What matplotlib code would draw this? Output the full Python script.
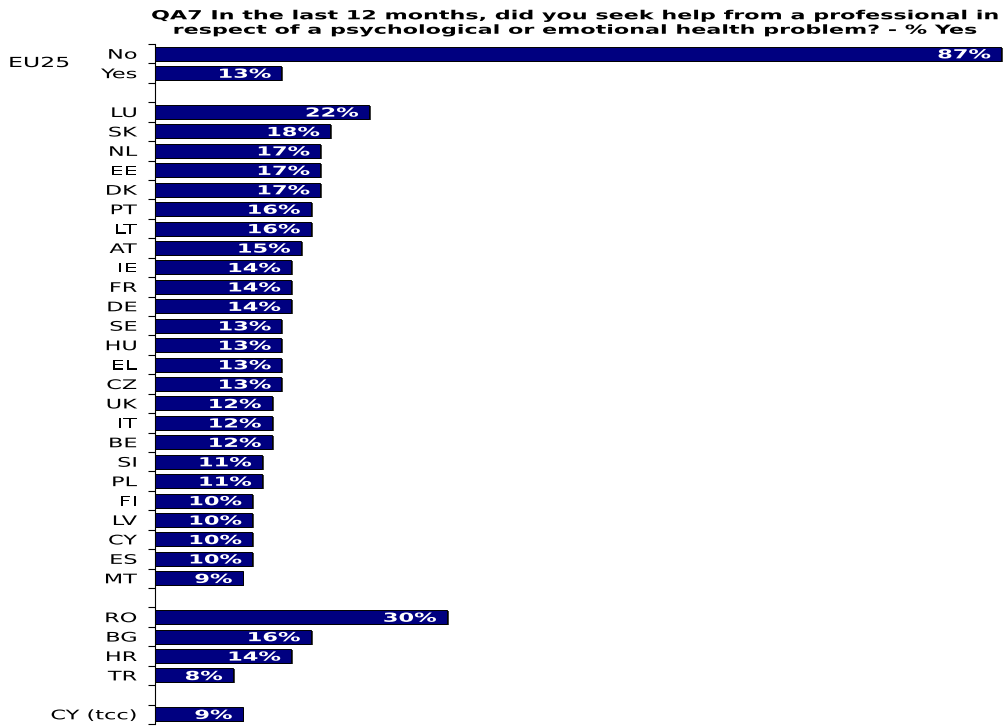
import matplotlib
matplotlib.use("Agg")
import matplotlib.pyplot as plt
import numpy as np
from matplotlib.patheffects import AbstractPathEffect
from matplotlib.transforms import Affine2D

eu_labels = ["No", "Yes"]
eu_values = [87, 13]
countries = ["LU", "SK", "NL", "EE", "DK", "PT", "LT", "AT", "IE", "FR", "DE", "SE", "HU",
             "EL", "CZ", "UK", "IT", "BE", "SI", "PL", "FI", "LV", "CY", "ES", "MT"]
country_values = [22, 18, 17, 17, 17, 16, 16, 15, 14, 14, 14, 13, 13, 13, 13, 12, 12, 12,
                  11, 11, 10, 10, 10, 10, 9]
candidates = ["RO", "BG", "HR", "TR"]
candidate_values = [30, 16, 14, 8]
tcc_labels = ["CY (tcc)"]
tcc_values = [9]
group_label = "EU25"
title = ("QA7 In the last 12 months, did you seek help from a professional in\n"
         "respect of a psychological or emotional health problem? - % Yes")


class HStretch(AbstractPathEffect):
    """Stretch glyphs horizontally (the reference uses a wide, tracked face)."""

    def __init__(self, sx, anchor="left"):
        super().__init__()
        self.sx = sx
        self.anchor = anchor

    def draw_path(self, renderer, gc, tpath, affine, rgbFace=None):
        ext = tpath.get_extents()
        if self.anchor == "right":
            a = ext.x1
        elif self.anchor == "center":
            a = 0.5 * (ext.x0 + ext.x1)
        else:
            a = 0.0
        local = Affine2D().translate(-a, 0).scale(self.sx, 1.0).translate(a, 0)
        renderer.draw_path(gc, tpath, local + affine, rgbFace)


# build slots with gaps between groups
labels, values = [], []
groups = [(eu_labels, eu_values), (countries, country_values),
          (candidates, candidate_values), (tcc_labels, tcc_values)]
for gi, (l, v) in enumerate(groups):
    if gi > 0:
        labels.append("")
        values.append(None)
    labels += l
    values += v

n = len(labels)
pos = np.arange(n)

fig = plt.figure(figsize=(10.05, 7.26), dpi=100)
ax = fig.add_axes([155 / 1005, 1 - 724 / 726, 848 / 1005, 680 / 726])

bar_color = "#000080"
for p, v in zip(pos, values):
    if v is None:
        continue
    ax.barh(p + 0.05, v, height=0.72, left=0.2, color="#404040", zorder=1)
    ax.barh(p, v, height=0.72, color=bar_color, edgecolor="black", linewidth=0.7, zorder=2)
    ax.annotate(f"{v}%", xy=(v, p), xytext=(-7.5, -0.8), textcoords="offset points",
                color="white", fontweight="bold", fontsize=9, ha="right", va="center",
                zorder=3, path_effects=[HStretch(1.8, "right")])

ax.set_xlim(0, 87.2)
ax.set_ylim(n - 0.5, -0.5)
ax.set_yticks(pos)
ax.set_yticklabels(labels, fontsize=9.5)
for t in ax.get_yticklabels():
    t.set_path_effects([HStretch(1.7, "right")])
ax.tick_params(axis="y", which="major", length=0, pad=13)
ax.set_yticks(np.arange(-0.5, n, 1.0), minor=True)
ax.tick_params(axis="y", which="minor", length=5, width=0.8, direction="out")
ax.set_xticks([])
for s in ["top", "right", "bottom"]:
    ax.spines[s].set_visible(False)
ax.spines["left"].set_linewidth(0.8)

fig.text(8 / 1005, 1 - 63 / 726, group_label, fontsize=10, ha="left", va="center",
         path_effects=[HStretch(1.7, "left")])
fig.text(574 / 1005, 1 - 23 / 726, title, fontsize=9, fontweight="bold",
         ha="center", va="center", linespacing=1.15,
         path_effects=[HStretch(1.78, "center")])

fig.savefig("out.png", dpi=100)
